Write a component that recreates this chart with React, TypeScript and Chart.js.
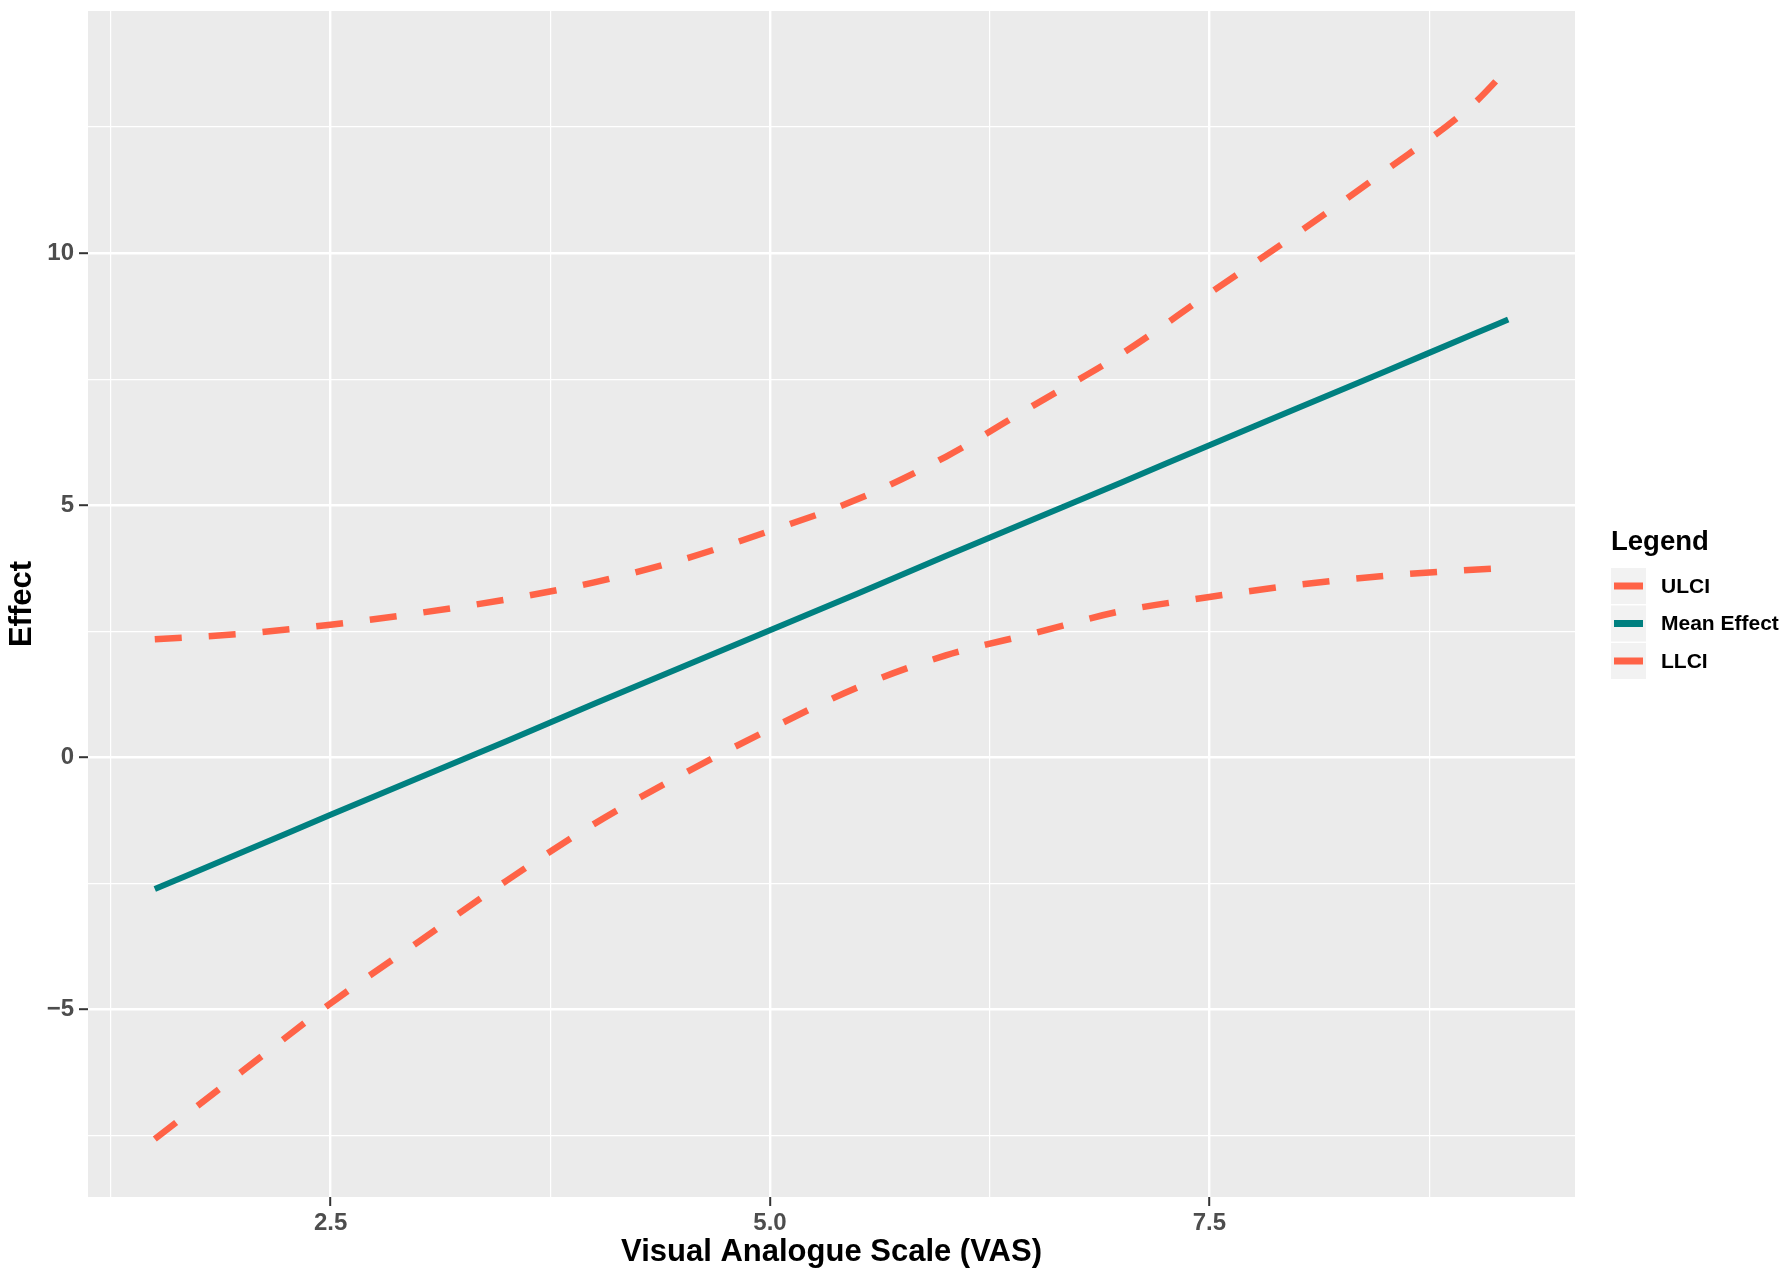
import React, { useEffect, useRef } from "react";
import { Chart, registerables } from "chart.js";

Chart.register(...registerables);

// ---- data ----
const vas = [1.5, 2, 2.5, 3, 3.5, 4, 4.5, 5, 5.5, 6, 6.5, 7, 7.5, 8, 8.5, 9, 9.2];
const ulci = [2.34, 2.45, 2.63, 2.86, 3.13, 3.47, 3.92, 4.49, 5.12, 5.96, 6.98, 8.0, 9.2, 10.39, 11.63, 12.95, 13.67];
const meanEffect = [-2.61, -1.88, -1.14, -0.41, 0.32, 1.06, 1.79, 2.52, 3.25, 3.99, 4.72, 5.45, 6.19, 6.92, 7.65, 8.39, 8.68];
const llci = [-7.57, -6.22, -4.88, -3.66, -2.45, -1.32, -0.34, 0.56, 1.39, 2.02, 2.46, 2.9, 3.18, 3.42, 3.6, 3.72, 3.76];

const seriesNames = ["ULCI", "Mean Effect", "LLCI"];
const xMajorTicks = [2.5, 5.0, 7.5];
const xMinorTicks = [1.25, 3.75, 6.25, 8.75];
const yMajorTicks = [-5, 0, 5, 10];
const yMinorTicks = [-7.5, -2.5, 2.5, 7.5, 12.5];

const ORANGE = "#FF6347";
const TEAL = "#008080";
const FONT = "'Liberation Sans', Arial, Helvetica, sans-serif";

const toPoints = (ys: number[]) => vas.map((x, i) => ({ x, y: ys[i] }));

const panelBg = {
  id: "panelBg",
  beforeDraw(chart: any) {
    const { ctx, chartArea } = chart;
    ctx.save();
    ctx.fillStyle = "#EBEBEB";
    ctx.fillRect(chartArea.left, chartArea.top, chartArea.right - chartArea.left, chartArea.bottom - chartArea.top);
    ctx.restore();
  },
};

const ggLegend = {
  id: "ggLegend",
  afterDraw(chart: any) {
    const { ctx, chartArea } = chart;
    const x0 = chartArea.right + 36;
    ctx.save();
    ctx.textBaseline = "middle";
    ctx.textAlign = "left";
    ctx.fillStyle = "#000";
    ctx.font = `bold 27.5px ${FONT}`;
    ctx.fillText("Legend", x0, 542);
    const ds = chart.data.datasets;
    ds.forEach((d: any, i: number) => {
      const top = 568 + i * 37.5;
      ctx.fillStyle = "#F2F2F2";
      ctx.fillRect(x0, top, 35, 36);
      ctx.strokeStyle = d.borderColor;
      ctx.lineWidth = 7;
      ctx.setLineDash([]);
      ctx.beginPath();
      ctx.moveTo(x0 + 3, top + 18);
      ctx.lineTo(x0 + 32, top + 18);
      ctx.stroke();
      ctx.fillStyle = "#000";
      ctx.font = `bold 21px ${FONT}`;
      ctx.fillText(d.label, x0 + 50, top + 19);
    });
    ctx.restore();
  },
};

export default function App() {
  const ref = useRef<HTMLCanvasElement>(null);

  useEffect(() => {
    document.body.style.margin = "0";
    if (!ref.current) return;
    Chart.defaults.font.family = FONT;

    const isMajor = (arr: number[], v: number) => arr.some((m) => Math.abs(m - v) < 1e-6);

    const chart = new Chart(ref.current, {
      type: "scatter",
      data: {
        datasets: [
          {
            label: seriesNames[0],
            data: toPoints(ulci),
            showLine: true,
            borderColor: ORANGE,
            backgroundColor: ORANGE,
            borderWidth: 6.5,
            borderDash: [27, 27],
            pointRadius: 0,
            cubicInterpolationMode: "monotone",
          },
          {
            label: seriesNames[1],
            data: toPoints(meanEffect),
            showLine: true,
            borderColor: TEAL,
            backgroundColor: TEAL,
            borderWidth: 6,
            pointRadius: 0,
            cubicInterpolationMode: "monotone",
          },
          {
            label: seriesNames[2],
            data: toPoints(llci),
            showLine: true,
            borderColor: ORANGE,
            backgroundColor: ORANGE,
            borderWidth: 6.5,
            borderDash: [27, 27],
            pointRadius: 0,
            cubicInterpolationMode: "monotone",
          },
        ],
      },
      options: {
        animation: false,
        responsive: false,
        devicePixelRatio: 1,
        layout: { padding: { left: 0, right: 217, top: 11, bottom: 0 } },
        plugins: {
          legend: { display: false },
          tooltip: { enabled: false },
        },
        scales: {
          x: {
            type: "linear",
            min: 1.12,
            max: 9.58,
            afterBuildTicks: (scale: any) => {
              scale.ticks = [...xMinorTicks, ...xMajorTicks].sort((a, b) => a - b).map((v) => ({ value: v }));
            },
            afterFit: (scale: any) => {
              scale.height = 78;
              scale.paddingLeft = 0;
              scale.paddingRight = 0;
            },
            border: { display: false },
            grid: {
              color: "#FFFFFF",
              lineWidth: (c: any) => (isMajor(xMajorTicks, c.tick?.value) ? 2.4 : 1.2),
              drawTicks: true,
              tickLength: 9,
              tickWidth: 2,
              tickColor: (c: any) => (isMajor(xMajorTicks, c.tick?.value) ? "#333333" : "rgba(0,0,0,0)"),
            },
            ticks: {
              autoSkip: false,
              maxRotation: 0,
              padding: 3,
              color: "#4D4D4D",
              font: { size: 24, weight: "bold" },
              callback: (v: any) => (isMajor(xMajorTicks, Number(v)) ? Number(v).toFixed(1) : ""),
            },
            title: {
              display: true,
              text: "Visual Analogue Scale (VAS)",
              color: "#000",
              font: { size: 31, weight: "bold" },
              padding: { top: 0, bottom: 4 },
            },
          },
          y: {
            type: "linear",
            min: -8.72,
            max: 14.8,
            afterBuildTicks: (scale: any) => {
              scale.ticks = [...yMinorTicks, ...yMajorTicks].sort((a, b) => a - b).map((v) => ({ value: v }));
            },
            afterFit: (scale: any) => {
              scale.width = 88;
              scale.paddingTop = 0;
              scale.paddingBottom = 0;
            },
            border: { display: false },
            grid: {
              color: "#FFFFFF",
              lineWidth: (c: any) => (isMajor(yMajorTicks, c.tick?.value) ? 2.4 : 1.2),
              drawTicks: true,
              tickLength: 9,
              tickWidth: 2,
              tickColor: (c: any) => (isMajor(yMajorTicks, c.tick?.value) ? "#333333" : "rgba(0,0,0,0)"),
            },
            ticks: {
              autoSkip: false,
              padding: 5,
              color: "#4D4D4D",
              font: { size: 24, weight: "bold" },
              callback: (v: any) => {
                const n = Number(v);
                if (!isMajor(yMajorTicks, n)) return "";
                return n < 0 ? "\u2212" + Math.abs(n) : String(n);
              },
            },
            title: {
              display: true,
              text: "Effect",
              color: "#000",
              font: { size: 31, weight: "bold" },
              padding: { top: 4, bottom: 0 },
            },
          },
        },
      },
      plugins: [panelBg, ggLegend],
    } as any);

    return () => chart.destroy();
  }, []);

  return (
    <div style={{ width: 1792, height: 1275, background: "#FFFFFF" }}>
      <canvas ref={ref} width={1792} height={1275} style={{ display: "block", width: 1792, height: 1275 }} />
    </div>
  );
}
